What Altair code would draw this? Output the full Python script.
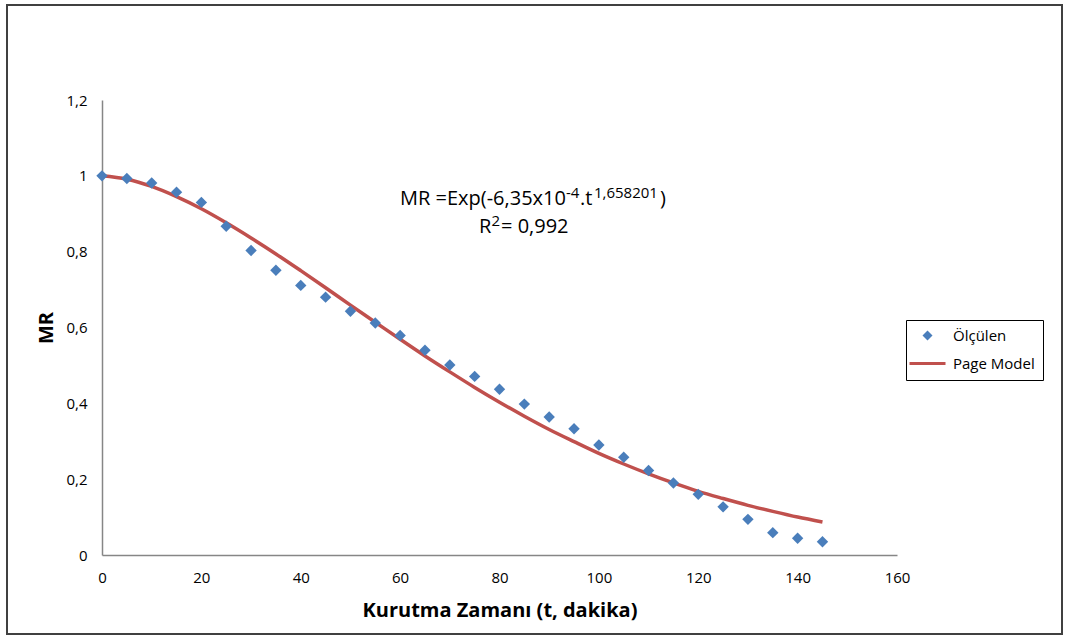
import altair as alt
import pandas as pd

# ---- data ----
t_min = [0, 5, 10, 15, 20, 25, 30, 35, 40, 45, 50, 55, 60, 65, 70,
         75, 80, 85, 90, 95, 100, 105, 110, 115, 120, 125, 130, 135, 140, 145]
mr_measured = [1.000, 0.993, 0.981, 0.957, 0.930, 0.867, 0.803, 0.751, 0.711, 0.680,
               0.643, 0.612, 0.579, 0.540, 0.501, 0.471, 0.437, 0.398, 0.364, 0.333,
               0.290, 0.258, 0.223, 0.190, 0.160, 0.127, 0.094, 0.059, 0.044, 0.035]
mr_model = [1.000, 0.991, 0.972, 0.945, 0.913, 0.876, 0.836, 0.794, 0.750, 0.705,
            0.659, 0.614, 0.569, 0.525, 0.483, 0.442, 0.403, 0.366, 0.331, 0.299,
            0.268, 0.240, 0.214, 0.190, 0.168, 0.149, 0.131, 0.115, 0.100, 0.087]
series_names = ["Ölçülen", "Page Model"]
x_ticks = [0, 20, 40, 60, 80, 100, 120, 140, 160]
y_ticks = [0, 0.2, 0.4, 0.6, 0.8, 1, 1.2]

BLUE = "#4a7ebb"
RED = "#c0504d"
AXIS = "#868686"
FONT = "Open Sans"

pts = pd.DataFrame({"t": t_min, "MR": mr_measured, "series": series_names[0]})
mdl = pd.DataFrame({"t": t_min, "MR": mr_model})
one = pd.DataFrame({"k": [0]})

x_scale = alt.Scale(domain=[0, 160], nice=False, zero=False)
y_scale = alt.Scale(domain=[0, 1.2], nice=False)

x_axis = alt.Axis(values=x_ticks, grid=False, ticks=False, domainColor=AXIS,
                  domainWidth=1.5, labelFont=FONT, labelFontSize=15, labelColor="black",
                  labelPadding=15, labelFlush=False,
                  title="Kurutma Zamanı (t, dakika)", titleFont=FONT, titleFontSize=20,
                  titleFontWeight="bold", titleColor="black", titlePadding=15)
y_axis = alt.Axis(values=y_ticks, grid=False, ticks=False, domainColor=AXIS,
                  domainWidth=1.5, labelFont=FONT, labelFontSize=15, labelColor="black",
                  labelPadding=15, labelFlush=False,
                  labelExpr="replace(toString(datum.value), '.', ',')",
                  title="MR", titleFont=FONT, titleFontSize=20, titleFontWeight="bold",
                  titleColor="black", titlePadding=9)

line = alt.Chart(mdl).mark_line(color=RED, strokeWidth=3.5, interpolate="monotone").encode(
    x=alt.X("t:Q", scale=x_scale, axis=x_axis),
    y=alt.Y("MR:Q", scale=y_scale, axis=y_axis),
)

leg = dict(title=None, orient="none", legendX=804, legendY=220,
           strokeColor="black", padding=8, symbolOffset=6,
           labelFont=FONT, labelFontSize=15, labelColor="black",
           labelOffset=18, rowPadding=12, symbolSize=100, symbolStrokeWidth=0)

points = alt.Chart(pts).mark_point(filled=True, opacity=1, size=130).encode(
    x=alt.X("t:Q", scale=x_scale, axis=x_axis),
    y=alt.Y("MR:Q", scale=y_scale, axis=y_axis),
    color=alt.Color("series:N",
                    scale=alt.Scale(domain=series_names, range=[BLUE, RED]),
                    legend=alt.Legend(**leg)),
    shape=alt.Shape("series:N",
                    scale=alt.Scale(domain=series_names,
                                    range=["diamond", "M-3.6,-0.3H3.6V0.3H-3.6Z"]),
                    legend=alt.Legend(**leg)),
)

# annotation: equation with superscripts, placed as text pieces
def txt(s, x, y, size):
    return alt.Chart(one).mark_text(text=s, align="left", baseline="alphabetic",
                                    font=FONT, fontSize=size, color="black").encode(
        x=alt.value(x), y=alt.value(y))

MAIN, SUP = 20, 15
x0 = 298
b1, s1 = 105, 98      # baselines of line 1 and its superscripts
b2, s2 = 133, 126     # baselines of line 2 and its superscript
ann = (txt("MR =Exp(-6,35x10", x0, b1, MAIN)
       + txt("-4", x0 + 166, s1, SUP)
       + txt(".t", x0 + 180, b1, MAIN)
       + txt("1,658201", x0 + 194, s1, SUP)
       + txt(")", x0 + 260, b1, MAIN)
       + txt("R", 377, b2, MAIN)
       + txt("2", 389.5, s2, SUP)
       + txt("= 0,992", 399, b2, MAIN))

frame = alt.Chart(one).mark_rect(fill=None, stroke="#404040", strokeWidth=2).encode(
    x=alt.value(-95), x2=alt.value(960), y=alt.value(-95), y2=alt.value(534))

chart = alt.layer(line, points, ann, frame).properties(
    width=795, height=455,
    autosize=alt.AutoSizeParams(type="none"),
    padding={"left": 102, "top": 100, "right": 177, "bottom": 89},
    background="white",
).configure_view(stroke=None)

chart.save("out.html", embed_options={"renderer": "svg", "actions": False})
